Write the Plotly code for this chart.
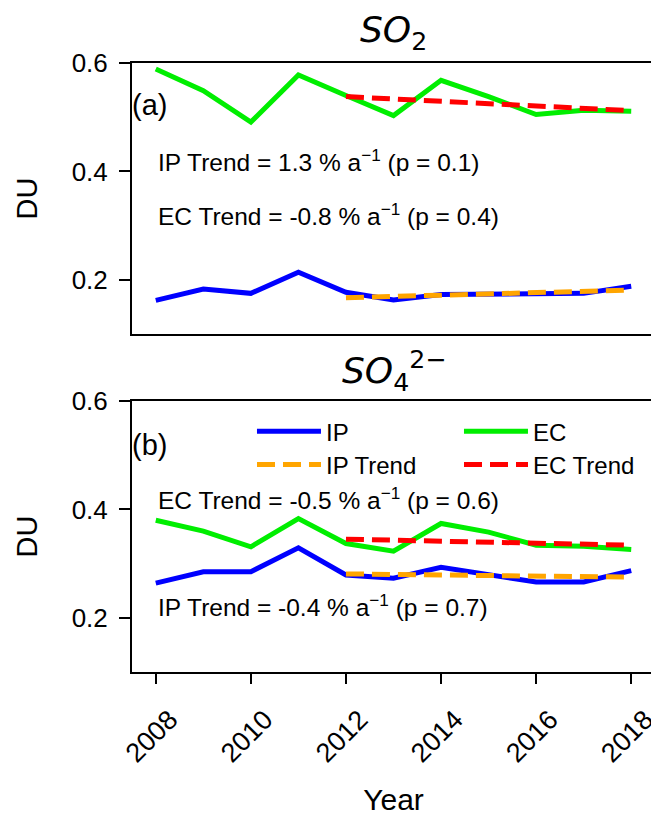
import plotly.graph_objects as go
from plotly.subplots import make_subplots

years = [2008, 2009, 2010, 2011, 2012, 2013, 2014, 2015, 2016, 2017, 2018]
trend_years = [2012, 2013, 2014, 2015, 2016, 2017, 2018]

# SO2 (panel a)
so2_ip = [0.162, 0.183, 0.175, 0.214, 0.177, 0.163, 0.173, 0.173, 0.173, 0.175, 0.188]
so2_ec = [0.589, 0.549, 0.491, 0.578, 0.540, 0.503, 0.568, 0.538, 0.505, 0.513, 0.511]
so2_ip_trend = [0.167, 0.169, 0.172, 0.174, 0.176, 0.179, 0.181]
so2_ec_trend = [0.538, 0.534, 0.529, 0.525, 0.521, 0.516, 0.512]

# SO4 (panel b)
so4_ip = [0.264, 0.285, 0.285, 0.329, 0.279, 0.273, 0.293, 0.280, 0.266, 0.266, 0.287]
so4_ec = [0.380, 0.360, 0.331, 0.383, 0.337, 0.323, 0.374, 0.358, 0.334, 0.332, 0.326]
so4_ip_trend = [0.281, 0.280, 0.279, 0.278, 0.277, 0.276, 0.275]
so4_ec_trend = [0.345, 0.343, 0.341, 0.340, 0.338, 0.336, 0.334]

x_ticks = [2008, 2010, 2012, 2014, 2016, 2018]
y_ticks = [0.2, 0.4, 0.6]

BLUE = "#0000ff"
GREEN = "#00ee00"
ORANGE = "#ffa500"
RED = "#ff0000"
FONT = "Liberation Sans, Arial, sans-serif"
DASH = "18px,8px"

fig = make_subplots(rows=2, cols=1, vertical_spacing=0.11)

def add_panel(row, ip, ec, ipt, ect, show):
    fig.add_trace(go.Scatter(x=years, y=ip, mode="lines", name="IP",
                             line=dict(color=BLUE, width=5),
                             showlegend=show, legend="legend"), row=row, col=1)
    fig.add_trace(go.Scatter(x=years, y=ec, mode="lines", name="EC",
                             line=dict(color=GREEN, width=5),
                             showlegend=show, legend="legend3"), row=row, col=1)
    fig.add_trace(go.Scatter(x=trend_years, y=ipt, mode="lines", name="IP Trend",
                             line=dict(color=ORANGE, width=5, dash=DASH),
                             showlegend=show, legend="legend2"), row=row, col=1)
    fig.add_trace(go.Scatter(x=trend_years, y=ect, mode="lines", name="EC Trend",
                             line=dict(color=RED, width=5, dash=DASH),
                             showlegend=show, legend="legend4"), row=row, col=1)

add_panel(1, so2_ip, so2_ec, so2_ip_trend, so2_ec_trend, False)
add_panel(2, so4_ip, so4_ec, so4_ip_trend, so4_ec_trend, True)

axis_common = dict(showline=True, linecolor="black", linewidth=2, mirror=True,
                   showgrid=False, zeroline=False, automargin=False)

fig.update_xaxes(**axis_common, range=[2007.5, 2018.5])
fig.update_xaxes(row=1, col=1, domain=[0, 1], showticklabels=False, ticks="")
fig.update_xaxes(row=2, col=1, domain=[0, 1], tickvals=x_ticks, ticks="outside",
                 ticklen=10, tickwidth=2, tickcolor="black", tickangle=-45,
                 ticklabelshift=14, ticklabelstandoff=9, ticklabeloverflow="allow",
                 tickfont=dict(family=FONT, size=27, color="black"),
                 title=dict(text="Year", font=dict(family=FONT, size=30, color="black"),
                            standoff=22))

fig.update_yaxes(**axis_common, range=[0.1, 0.6], tickvals=y_ticks,
                 tickformat=".1f", ticks="outside", ticklen=11, tickwidth=2,
                 tickcolor="black", ticklabelstandoff=6,
                 tickfont=dict(family=FONT, size=26, color="black"),
                 title=dict(text="DU", font=dict(family=FONT, size=29, color="black"),
                            standoff=25))
fig.update_yaxes(row=1, col=1, domain=[0.555, 1.0])
fig.update_yaxes(row=2, col=1, domain=[0.0, 0.445])

ann_font = dict(family=FONT, size=24.5, color="black")
panel_font = dict(family=FONT, size=29, color="black")
title_font = dict(family="DejaVu Sans, sans-serif", size=36, color="black")

annotations = [
    dict(text="<i>SO</i><sub>2</sub>", xref="paper", yref="paper", x=0.5, y=1.05,
         xanchor="center", yanchor="middle", showarrow=False, font=title_font),
    dict(text="<i>SO</i><sub>4</sub><sup>2−</sup>", xref="paper", yref="paper", x=0.5, y=0.495,
         xanchor="center", yanchor="middle", showarrow=False, font=title_font),
    dict(text="(a)", xref="x domain", yref="y domain", x=-0.004, y=0.845,
         xanchor="left", yanchor="middle", showarrow=False, font=panel_font),
    dict(text="IP Trend = 1.3 % a<sup>−1</sup> (p = 0.1)", xref="x domain", yref="y domain",
         x=0.045, y=0.64, xanchor="left", yanchor="middle", showarrow=False, font=ann_font),
    dict(text="EC Trend = -0.8 % a<sup>−1</sup> (p = 0.4)", xref="x domain", yref="y domain",
         x=0.045, y=0.44, xanchor="left", yanchor="middle", showarrow=False, font=ann_font),
    dict(text="(b)", xref="x2 domain", yref="y2 domain", x=-0.004, y=0.838,
         xanchor="left", yanchor="middle", showarrow=False, font=panel_font),
    dict(text="EC Trend = -0.5 % a<sup>−1</sup> (p = 0.6)", xref="x2 domain", yref="y2 domain",
         x=0.045, y=0.64, xanchor="left", yanchor="middle", showarrow=False, font=ann_font),
    dict(text="IP Trend = -0.4 % a<sup>−1</sup> (p = 0.7)", xref="x2 domain", yref="y2 domain",
         x=0.045, y=0.245, xanchor="left", yanchor="middle", showarrow=False, font=ann_font),
]

leg_font = dict(family=FONT, size=24, color="black")
def leg(x, y):
    return dict(x=x, y=y, xref="paper", yref="paper", xanchor="left", yanchor="middle",
                bgcolor="rgba(0,0,0,0)", borderwidth=0, font=leg_font, itemwidth=64)

# The page body adds an 8 px margin, so the figure is sized to the visible area
# and the plot area is placed 8 px up/left of the reference's pixel positions.
fig.update_layout(
    width=651, height=808,
    margin=dict(l=124, r=4, t=55, b=144, autoexpand=False),
    plot_bgcolor="white", paper_bgcolor="white",
    annotations=annotations,
    legend=leg(0.2294, 0.3946),
    legend2=leg(0.2294, 0.340),
    legend3=leg(0.6252, 0.3946),
    legend4=leg(0.6252, 0.340),
    font=dict(family=FONT, color="black"),
)

fig.write_html("out.html")
